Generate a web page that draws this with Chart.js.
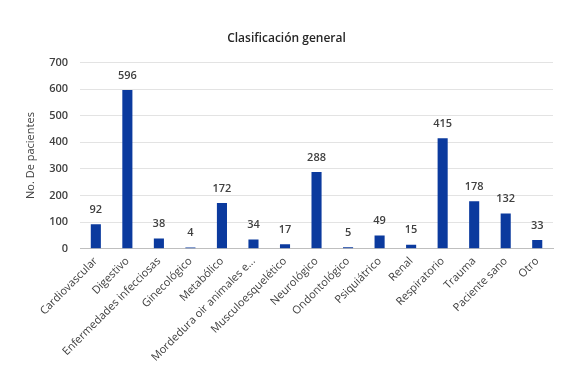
<!DOCTYPE html>
<html>
<head>
<meta charset="utf-8">
<script src="https://cdn.jsdelivr.net/npm/chart.js@4"></script>
<style>
  html, body { margin: 0; padding: 0; background: #fff; }
  #wrap { width: 567px; height: 370px; position: relative; }
</style>
</head>
<body>
<div id="wrap"><canvas id="chart"></canvas></div>
<script>
const categories = [
  'Cardiovascular', 'Digestivo', 'Enfermedades infecciosas', 'Ginecológico',
  'Metabólico', 'Mordedura oir animales e...', 'Musculoesquelético', 'Neurológico',
  'Ondontológico', 'Psiquiátrico', 'Renal', 'Respiratorio', 'Trauma',
  'Paciente sano', 'Otro'
];
const patients = [92, 596, 38, 4, 172, 34, 17, 288, 5, 49, 15, 415, 178, 132, 33];
const yTicks = [0, 100, 200, 300, 400, 500, 600, 700];

const FONT = 'Open Sans';

// value labels above each bar
const barValues = {
  id: 'barValues',
  afterDatasetsDraw(chart) {
    const ctx = chart.ctx;
    const meta = chart.getDatasetMeta(0);
    ctx.save();
    ctx.font = '600 11px "' + FONT + '"';
    ctx.fillStyle = '#404040';
    ctx.textAlign = 'center';
    ctx.textBaseline = 'bottom';
    meta.data.forEach((bar, i) => {
      ctx.fillText(patients[i], bar.x, bar.y - 9);
    });
    ctx.restore();
  }
};

new Chart(document.getElementById('chart'), {
  type: 'bar',
  data: {
    labels: categories,
    datasets: [{
      data: patients,
      backgroundColor: '#0b3a9e',
      barPercentage: 0.64,
      categoryPercentage: 0.5
    }]
  },
  options: {
    responsive: true,
    maintainAspectRatio: false,
    animation: false,
    layout: { padding: { top: 10, right: 14, left: 20, bottom: 0 } },
    plugins: {
      legend: { display: false },
      tooltip: { enabled: false },
      title: {
        display: true,
        text: 'Clasificación general',
        color: '#262626',
        font: { family: FONT, size: 12, weight: '600' },
        padding: { top: 21, bottom: 17 }
      }
    },
    scales: {
      x: {
        grid: { display: false, drawTicks: false },
        border: { color: '#bfbfbf' },
        ticks: {
          color: '#404040',
          font: { family: FONT, size: 11 },
          minRotation: 45,
          maxRotation: 45,
          autoSkip: false,
          padding: 6
        }
      },
      y: {
        min: 0,
        max: 700,
        afterBuildTicks(axis) {
          axis.ticks = yTicks.map(v => ({ value: v }));
        },
        grid: { color: '#e3e3e3', drawTicks: false },
        border: { display: false },
        ticks: {
          color: '#404040',
          font: { family: FONT, size: 11, weight: '600' },
          padding: 12
        },
        title: {
          display: true,
          text: 'No. De pacientes',
          color: '#404040',
          font: { family: FONT, size: 11 },
          padding: { bottom: 0 }
        }
      }
    }
  },
  plugins: [barValues]
});
</script>
</body>
</html>
